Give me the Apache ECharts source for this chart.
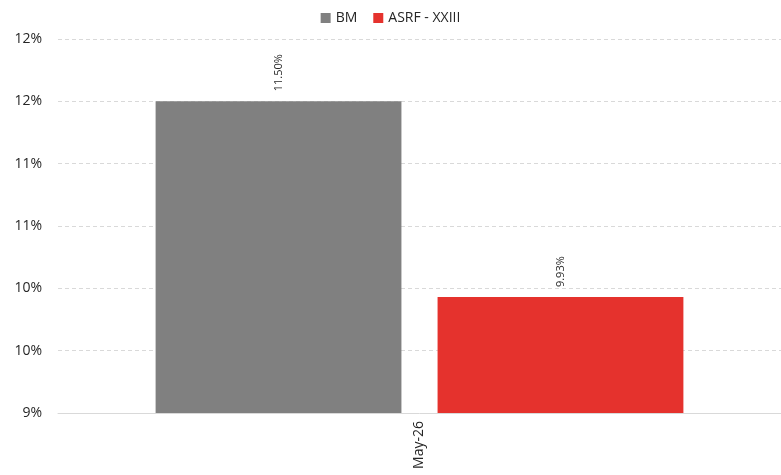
<!DOCTYPE html>
<html><head><meta charset="utf-8">
<script src="https://cdn.jsdelivr.net/npm/echarts@6/dist/echarts.min.js"></script>
<style>html,body{margin:0;padding:0;background:#fff}#c{width:781px;height:475px}</style>
</head><body><div id="c"></div>
<script>
const categories = ['May-26'];
const seriesNames = ['BM', 'ASRF - XXIII'];
const bmValues = [11.50];
const asrfValues = [9.93];
const colors = ['#808080', '#E5322D'];

const chart = echarts.init(document.getElementById('c'));
const font = '"Open Sans", "Noto Sans", sans-serif';
const labelCfg = {
  show: true, position: 'top', rotate: 90, align: 'left', verticalAlign: 'middle',
  distance: 10, fontSize: 11, color: '#262626', fontFamily: font,
  formatter: p => p.value.toFixed(2) + '%'
};
chart.setOption({
  animation: false,
  textStyle: { fontFamily: font },
  legend: {
    top: 6, left: 'center', itemWidth: 10, itemHeight: 10, itemGap: 16,
    icon: 'rect', textStyle: { fontSize: 14, color: '#262626', fontFamily: font },
    data: seriesNames
  },
  grid: { left: 58, right: 0, top: 39, bottom: 62, containLabel: false },
  xAxis: {
    type: 'category', data: categories,
    axisLine: { lineStyle: { color: '#d9d9d9' } },
    axisTick: { show: false },
    axisLabel: { rotate: 90, fontSize: 14, color: '#262626', margin: 8, fontFamily: font }
  },
  yAxis: {
    type: 'value', min: 9, max: 12, interval: 0.5,
    axisLine: { show: false }, axisTick: { show: false },
    axisLabel: { fontSize: 14, color: '#262626', margin: 16, fontFamily: font,
      formatter: v => Math.round(v) + '%' },
    splitLine: { lineStyle: { color: '#d9d9d9', type: [4, 3] } }
  },
  series: [
    { name: seriesNames[0], type: 'bar', data: bmValues, itemStyle: { color: colors[0] },
      barGap: '14.7%', barCategoryGap: '27%', label: labelCfg },
    { name: seriesNames[1], type: 'bar', data: asrfValues, itemStyle: { color: colors[1] },
      barGap: '14.7%', barCategoryGap: '27%', label: labelCfg }
  ]
});
</script></body></html>
